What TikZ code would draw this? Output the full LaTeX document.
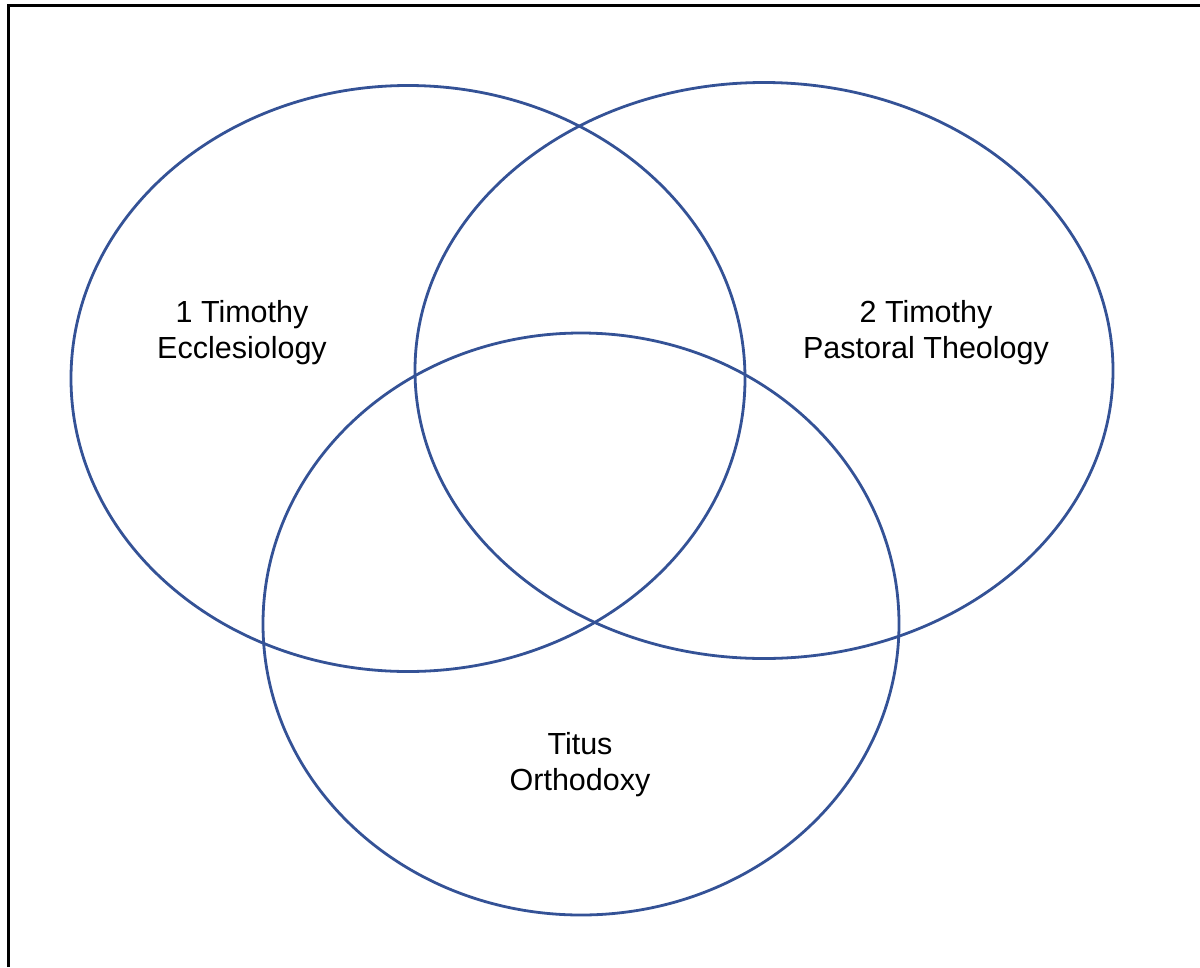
\documentclass[tikz,border=0pt]{standalone}
\usepackage{fontspec}
\setmainfont{Liberation Sans}
\definecolor{vennblue}{RGB}{52,82,150}
\begin{document}
\begin{tikzpicture}[x=1pt,y=-1pt,
            circle line/.style={draw=vennblue,line width=2.8pt},
            book/.style={align=center,font=\fontsize{30.5}{36}\selectfont}]

        \useasboundingbox (0,0) rectangle (1200,967);

        % Frame
        \coordinate (fb) at (8,967);
        \coordinate (fc) at (8,5.5);
        \coordinate (fr) at (1200,5.5);
        \draw[line width=3pt] (fb) -- (fc) -- (fr);

        % Define centres
        \coordinate (tim1) at (408,378.5);
        \coordinate (tim2) at (764,370.5);
        \coordinate (tit) at (581,624);

        % Draw circles
        \draw[circle line] (tim1) ellipse [x radius=337, y radius=293];
        \draw[circle line] (tim2) ellipse [x radius=349, y radius=288];
        \draw[circle line] (tit) ellipse [x radius=318, y radius=291];

        % Labels
        \node[book] (l1) at (242,332.5) {1 Timothy\\Ecclesiology};
        \node[book] (l2) at (926,332.5) {2 Timothy\\Pastoral Theology};
        \node[book] (l3) at (580,765) {Titus\\Orthodoxy};

\end{tikzpicture}
\end{document}
